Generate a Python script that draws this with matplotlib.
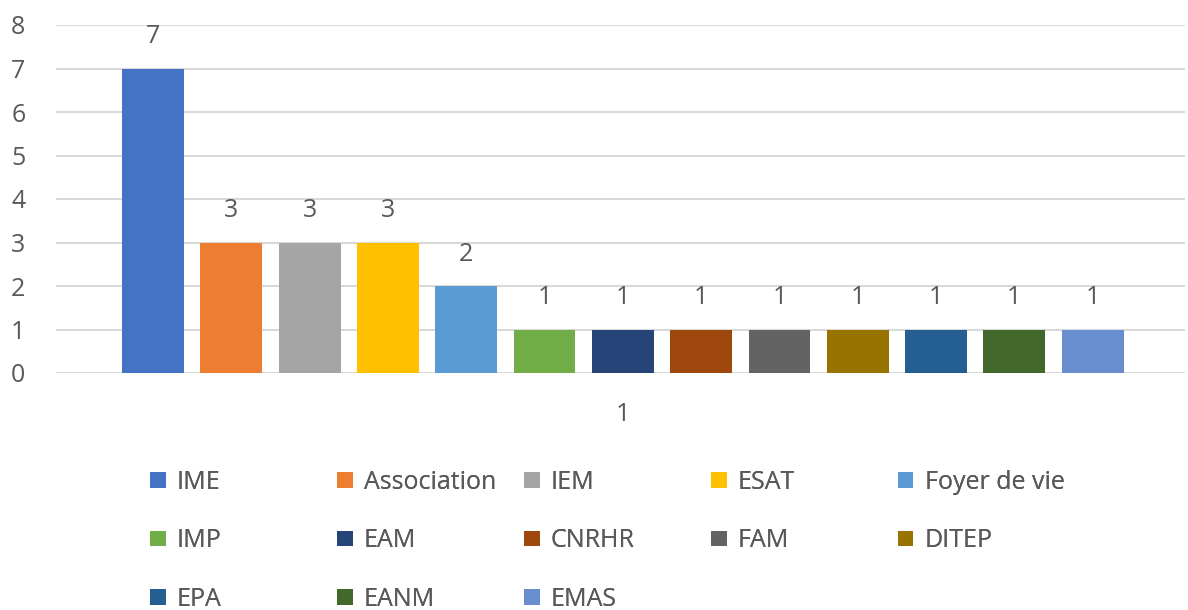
import matplotlib
matplotlib.use("Agg")
import matplotlib.pyplot as plt
from matplotlib.patches import Patch

categories = ["IME", "Association", "IEM", "ESAT", "Foyer de vie", "IMP", "EAM",
              "CNRHR", "FAM", "DITEP", "EPA", "EANM", "EMAS"]
values = [7, 3, 3, 3, 2, 1, 1, 1, 1, 1, 1, 1, 1]
colors = ["#4472C4", "#ED7D31", "#A5A5A5", "#FFC000", "#5B9BD5", "#70AD47", "#264478",
          "#9E480E", "#636363", "#997300", "#255E91", "#43682B", "#698ED0"]
group_label = "1"
yticks = [0, 1, 2, 3, 4, 5, 6, 7, 8]

plt.rcParams['font.family'] = ['Open Sans', 'DejaVu Sans']
txt = "#595959"
FS = 18

W, H = 1188, 610
fig = plt.figure(figsize=(W / 100, H / 100), dpi=100)
ax = fig.add_axes([56 / W, (H - 373) / H, (1185 - 56) / W, (373 - 25) / H])

xs = list(range(len(values)))
for x, v, c, lab in zip(xs, values, colors, categories):
    b = ax.bar(x, v, width=0.79, color=c, label=lab, zorder=3)
    ax.bar_label(b, padding=14, fontsize=FS, color=txt)

ax.set_xlim(-1.24, 13.18)
ax.set_ylim(0, 8)
ax.set_yticks(yticks)
ax.set_xticks([6])
ax.set_xticklabels([group_label])
ax.tick_params(axis='both', length=0, labelsize=FS, labelcolor=txt)
ax.tick_params(axis='x', pad=21)
ax.tick_params(axis='y', pad=22)
ax.grid(axis='y', color='#d9d9d9', linewidth=1.5, zorder=0)
for s in ax.spines.values():
    s.set_visible(False)

# legend: 5 equally spaced columns, filled row-wise
col_x = [150, 337, 524, 711, 898]
for j in range(5):
    idx = [i for i in range(j, len(categories), 5)]
    handles = [Patch(facecolor=colors[i], edgecolor='none') for i in idx]
    labels = [categories[i] for i in idx]
    leg = fig.legend(handles, labels, loc='upper left',
                     bbox_to_anchor=(col_x[j] / W, 1 - 470 / H),
                     frameon=False, fontsize=FS, labelcolor=txt,
                     handlelength=0.62, handleheight=0.6, handletextpad=0.45,
                     labelspacing=1.33, borderaxespad=0, borderpad=0)
    fig.add_artist(leg)

fig.savefig("out.png", dpi=100)
